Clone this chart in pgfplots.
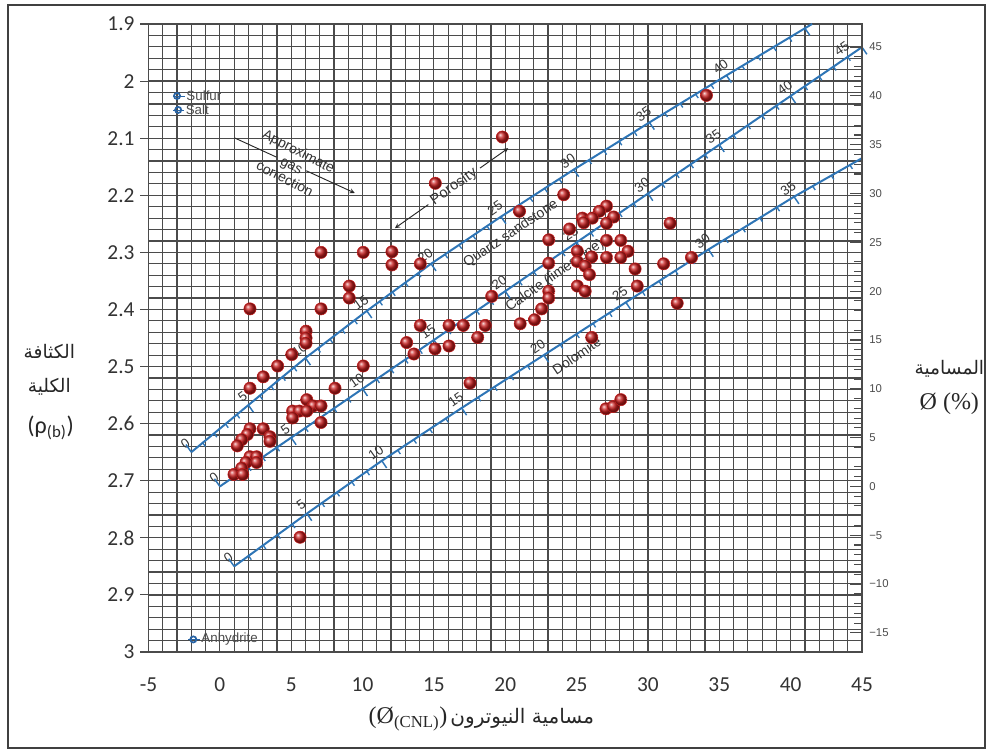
\documentclass[border=0pt]{standalone}
\usepackage{fontspec}
\usepackage{pgfplots}
\usepackage{pgfplotstable}
\pgfplotsset{compat=1.18}
\setmainfont{Carlito}
\newfontfamily\arial{Liberation Sans}
\newfontfamily\tnr{Liberation Serif}
\newfontfamily\arabicfont[Script=Arabic]{DejaVu Sans}
\TeXXeTstate=1
\definecolor{lineblue}{RGB}{46,117,182}
\definecolor{ptred}{RGB}{200,30,30}
\definecolor{gridc}{RGB}{75,75,75}
\definecolor{minblue}{RGB}{40,100,165}
\pgfdeclareplotmark{ltick}{\pgfpathmoveto{\pgfpointorigin}\pgfpathlineto{\pgfqpoint{0pt}{-\pgfplotmarksize}}\pgfusepathqstroke}

% lithology lines
\pgfplotstableread{
x y
-2 2.65
2 2.5675
6 2.485
10.3 2.4025
14.8 2.32
19.7 2.2375
24.8 2.155
30.1 2.0725
35.5 1.99
41.0 1.9075
41.5 1.9
}\sandline
\pgfplotstableread{
x y
0 2.71
45 1.9405
}\calcline
\pgfplotstableread{
x y
1 2.85
6.1 2.7575
11.35 2.665
16.95 2.5725
22.7 2.48
28.45 2.3875
34.24 2.295
40.24 2.2025
45 2.135
}\dololine
% porosity ticks along the lines
\pgfplotstableread{
x y
-1.2 2.6335
-0.4 2.617
0.4 2.6005
1.2 2.584
2.8 2.551
3.6 2.5345
4.4 2.518
5.2 2.5015
6.86 2.4685
7.72 2.452
8.58 2.4355
9.44 2.419
11.2 2.386
12.1 2.3695
13.0 2.353
13.9 2.3365
15.78 2.3035
16.76 2.287
17.74 2.2705
18.72 2.254
20.72 2.221
21.74 2.2045
22.76 2.188
23.78 2.1715
25.86 2.1385
26.92 2.122
27.98 2.1055
29.04 2.089
31.18 2.056
32.26 2.0395
33.34 2.023
34.42 2.0065
36.6 1.9735
37.7 1.957
38.8 1.9405
39.9 1.924
}\sandminor
\pgfplotstableread{
x y
2 2.5675
6 2.485
10.3 2.4025
14.8 2.32
19.7 2.2375
24.8 2.155
30.1 2.0725
35.5 1.99
41.0 1.9075
}\sandmajor
\pgfplotstableread{
x y
1 2.6929
2 2.6758
3 2.6587
4 2.6416
6 2.6074
7 2.5903
8 2.5732
9 2.5561
11 2.5219
12 2.5048
13 2.4877
14 2.4706
16 2.4364
17 2.4193
18 2.4022
19 2.3851
21 2.3509
22 2.3338
23 2.3167
24 2.2996
26 2.2654
27 2.2483
28 2.2312
29 2.2141
31 2.1799
32 2.1628
33 2.1457
34 2.1286
36 2.0944
37 2.0773
38 2.0602
39 2.0431
41 2.0089
42 1.9918
43 1.9747
44 1.9576
}\calcminor
\pgfplotstableread{
x y
5 2.6245
10 2.539
15 2.4535
20 2.368
25 2.2825
30 2.197
35 2.1115
40 2.026
45 1.9405
}\calcmajor
\pgfplotstableread{
x y
2.02 2.8315
3.04 2.813
4.06 2.7945
5.08 2.776
7.15 2.739
8.2 2.7205
9.25 2.702
10.3 2.6835
12.47 2.6465
13.59 2.628
14.71 2.6095
15.83 2.591
18.1 2.554
19.25 2.5355
20.4 2.517
21.55 2.4985
23.85 2.4615
25.0 2.443
26.15 2.4245
27.3 2.406
29.61 2.369
30.77 2.3505
31.92 2.332
33.08 2.3135
35.44 2.2765
36.64 2.258
37.84 2.2395
39.04 2.221
41.54 2.184
42.85 2.1655
44.15 2.147
}\dolominor
\pgfplotstableread{
x y
6.1 2.7575
11.35 2.665
16.95 2.5725
22.7 2.48
28.45 2.3875
34.24 2.295
40.24 2.2025
}\dolomajor
\pgfplotstableread{
x y
-2 2.65
0 2.71
1 2.85
}\zeros
% measured samples
\pgfplotstableread{
x y
34.1 2.025
19.8 2.098
15.1 2.179
24.1 2.199
21.0 2.228
27.1 2.219
26.6 2.228
25.4 2.240
26.1 2.240
25.5 2.248
27.6 2.238
27.1 2.249
31.55 2.249
24.5 2.259
23.05 2.278
27.1 2.279
28.1 2.279
25.05 2.298
28.6 2.298
26.05 2.308
27.1 2.309
28.1 2.309
33.05 2.309
25.05 2.316
25.6 2.324
23.05 2.319
31.1 2.320
29.1 2.329
25.9 2.339
25.05 2.359
25.6 2.368
29.25 2.359
32.05 2.389
23.05 2.368
23.05 2.380
22.55 2.399
22.05 2.418
21.05 2.425
19.05 2.377
18.6 2.428
17.06 2.428
16.06 2.428
14.05 2.428
18.07 2.449
26.06 2.449
17.53 2.529
27.06 2.574
27.57 2.570
28.1 2.558
13.09 2.458
13.6 2.478
15.08 2.469
16.06 2.464
10.05 2.499
8.07 2.538
7.09 2.300
10.05 2.300
12.06 2.299
12.06 2.322
14.05 2.320
9.07 2.359
9.07 2.380
2.11 2.399
7.09 2.399
6.04 2.438
6.04 2.450
6.04 2.459
5.04 2.479
4.05 2.499
3.04 2.518
2.11 2.538
6.09 2.558
6.55 2.569
7.09 2.569
5.1 2.578
5.57 2.578
6.09 2.578
5.1 2.590
7.09 2.598
2.11 2.609
3.04 2.609
1.93 2.619
3.51 2.623
3.51 2.631
1.53 2.628
1.22 2.639
2.11 2.658
2.58 2.658
1.83 2.668
2.58 2.668
1.53 2.678
0.99 2.689
1.6 2.689
5.62 2.799
}\pts

\begin{document}
\begin{tikzpicture}
\path[use as bounding box] (0,0) rectangle (742.5pt,564.75pt);
\draw[black!75, line width=0.8pt] (6pt,3.75pt) rectangle (738.75pt,561pt);
\begin{axis}[
  at={(111.375pt,75.75pt)}, anchor=south west,
  width=535.125pt, height=471pt, scale only axis,
  xmin=-5, xmax=45, ymin=1.9, ymax=3, y dir=reverse,
  xtick={-5,0,...,45}, minor x tick num=4,
  ytick={1.9,2,2.1,2.2,2.3,2.4,2.5,2.6,2.7,2.8,2.9,3},
  yticklabels={1.9,2,2.1,2.2,2.3,2.4,2.5,2.6,2.7,2.8,2.9,3},
  minor y tick num=4,
  grid=both,
  major grid style={gridc, line width=0.9pt},
  minor grid style={gridc, line width=0.9pt},
  axis line style={gridc, line width=0.9pt},
  tick align=outside,
  xtick pos=bottom, ytick pos=left,
  xtick style={draw=none},
  ytick style={gridc, line width=0.8pt},
  major tick length=6pt, minor tick length=0pt,
  clip=false,
  /pgf/number format/assume math mode=true,
  ticklabel style={font=\fontsize{16}{18}\selectfont, text=black!80},
  xticklabel style={yshift=-10pt},
  yticklabel style={xshift=-1pt},
]
% lithology lines
\addplot[lineblue, line width=1.5pt] table[x=x,y=y] {\sandline};
\addplot[lineblue, line width=1.5pt] table[x=x,y=y] {\calcline};
\addplot[lineblue, line width=1.5pt] table[x=x,y=y] {\dololine};
\addplot[only marks, mark=ltick, mark size=3.5pt, mark options={draw=lineblue, line width=1pt, rotate=35}] table[x=x,y=y] {\sandminor};
\addplot[only marks, mark=ltick, mark size=6.5pt, mark options={draw=lineblue, line width=1.1pt, rotate=35}] table[x=x,y=y] {\sandmajor};
\addplot[only marks, mark=ltick, mark size=3.5pt, mark options={draw=lineblue, line width=1pt, rotate=34.4}] table[x=x,y=y] {\calcminor};
\addplot[only marks, mark=ltick, mark size=6.5pt, mark options={draw=lineblue, line width=1.1pt, rotate=34.4}] table[x=x,y=y] {\calcmajor};
\addplot[only marks, mark=ltick, mark size=3.5pt, mark options={draw=lineblue, line width=1pt, rotate=34}] table[x=x,y=y] {\dolominor};
\addplot[only marks, mark=ltick, mark size=6.5pt, mark options={draw=lineblue, line width=1.1pt, rotate=34}] table[x=x,y=y] {\dolomajor};
\addplot[only marks, mark=ltick, mark size=7pt, mark options={draw=lineblue, line width=1.1pt, rotate=215}] table[x=x,y=y] {\zeros};

% porosity labels along the lines
\tikzset{plbl/.style={rotate=35, anchor=south, inner sep=4pt, font=\arial\fontsize{10}{11}\selectfont, text=black!80}}
\node[plbl] at (axis cs:-2,2.65) {0};
\node[plbl] at (axis cs:2,2.5675) {5};
\node[plbl] at (axis cs:6,2.485) {10};
\node[plbl] at (axis cs:10.3,2.4025) {15};
\node[plbl] at (axis cs:14.8,2.32) {20};
\node[plbl] at (axis cs:19.7,2.2375) {25};
\node[plbl] at (axis cs:24.8,2.155) {30};
\node[plbl] at (axis cs:30.1,2.0725) {35};
\node[plbl] at (axis cs:35.5,1.99) {40};
\node[plbl] at (axis cs:0,2.71) {0};
\node[plbl] at (axis cs:5,2.6245) {5};
\node[plbl] at (axis cs:10,2.539) {10};
\node[plbl] at (axis cs:15,2.4535) {15};
\node[plbl] at (axis cs:20,2.368) {20};
\node[plbl] at (axis cs:25,2.2825) {25};
\node[plbl] at (axis cs:30,2.197) {30};
\node[plbl] at (axis cs:35,2.1115) {35};
\node[plbl] at (axis cs:40,2.026) {40};
\node[plbl] at (axis cs:44,1.9576) {45};
\node[plbl] at (axis cs:1,2.85) {0};
\node[plbl] at (axis cs:6.1,2.7575) {5};
\node[plbl] at (axis cs:11.35,2.665) {10};
\node[plbl] at (axis cs:16.95,2.5725) {15};
\node[plbl] at (axis cs:22.7,2.48) {20};
\node[plbl] at (axis cs:28.45,2.3875) {25};
\node[plbl] at (axis cs:34.24,2.295) {30};
\node[plbl] at (axis cs:40.24,2.2025) {35};

% lithology names
\tikzset{lname/.style={font=\arial\fontsize{10.5}{12}\selectfont, text=black!80, inner sep=1pt}}
\node[lname, rotate=34] at (axis cs:20.39,2.2675) {Quartz sandstone};
\node[lname, rotate=35] at (axis cs:23.49,2.341) {Calcite (limestone)};
\node[lname, rotate=34] at (axis cs:25.0,2.481) {Dolomite};

% gas correction arrow
\addplot[black!85, line width=0.7pt] coordinates {(1.03,2.0995) (3.96,2.1331)};
\addplot[black!85, line width=0.7pt, -stealth] coordinates {(6.06,2.1571) (9.45,2.196)};
\node[font=\arial\fontsize{10.5}{11.5}\selectfont, text=black!80, rotate=-27, align=center] at (axis cs:5.05,2.1465) {Approximate\\gas\\correction};
% porosity arrow
\addplot[black!85, line width=0.7pt, stealth-] coordinates {(12.27,2.2576) (14.61,2.2163)};
\addplot[black!85, line width=0.7pt, -stealth] coordinates {(18.23,2.1524) (20.21,2.1175)};
\node[font=\arial\fontsize{11}{12}\selectfont, text=black!80, rotate=35] at (axis cs:16.41,2.185) {Porosity};

% minerals
\addplot[minblue, line width=0.6pt] coordinates {(-3.3,2.026) (-2.45,2.026)};
\addplot[minblue, line width=0.6pt] coordinates {(-3.25,2.0505) (-2.5,2.0505)};
\addplot[minblue, line width=0.6pt] coordinates {(-2.2,2.978) (-1.4,2.978)};
\addplot[only marks, mark=o, mark size=2.3pt, mark options={draw=minblue, line width=1.3pt, fill=white}] coordinates {(-3.0,2.026) (-2.92,2.0505) (-1.86,2.978)};
\node[anchor=west, inner sep=1pt, font=\arial\fontsize{10}{11}\selectfont, text=black!70] at (axis cs:-2.45,2.026) {Sulfur};
\node[anchor=west, inner sep=1pt, font=\arial\fontsize{10}{11}\selectfont, text=black!70] at (axis cs:-2.5,2.0505) {Salt};
\node[anchor=west, inner sep=1pt, font=\arial\fontsize{10}{11}\selectfont, text=black!70] at (axis cs:-1.4,2.978) {Anhydrite};

% samples
\addplot[only marks, mark=ball, mark size=4.6pt, color=ptred, mark options={ball color=ptred}] table[x=x,y=y] {\pts};
\end{axis}

\begin{axis}[
  at={(111.375pt,75.75pt)}, anchor=south west,
  width=535.125pt, height=471pt, scale only axis,
  xmin=-5, xmax=45, ymin=-16.959, ymax=47.368,
  axis x line=none, axis y line*=right,
  axis line style={gridc, line width=0.9pt},
  ytick={-15,-10,...,45},
  yticklabels={−15,−10,−5,0,5,10,15,20,25,30,35,40,45},
  minor y tick num=4,
  tick align=inside,
  major tick length=9pt, minor tick length=6pt,
  ytick style={gridc, line width=0.8pt},
  yticklabel style={font=\arial\fontsize{8.5}{10}\selectfont, text=black!70, xshift=2pt},
]
\addplot[draw=none] coordinates {(0,0)};
\end{axis}

% axis titles
\node[font=\arabicfont\fontsize{14}{16}\selectfont, text=black!85] at (37pt,301.5pt) {\beginR الكثافة\endR};
\node[font=\arabicfont\fontsize{14}{16}\selectfont, text=black!85] at (37pt,274.5pt) {\beginR الكلية\endR};
\node[font=\fontsize{18}{20}\selectfont, text=black!85] at (38pt,243.75pt) {(ρ\textsubscript{(b)})};
\node[font=\arabicfont\fontsize{14}{16}\selectfont, text=black!85] at (712pt,288pt) {\beginR المسامية\endR};
\node[font=\tnr\fontsize{18}{20}\selectfont, text=black!85] at (712pt,262pt) {Ø (\%)};
\node[text=black!85, inner sep=0pt] at (361pt,25.5pt) {{\tnr\fontsize{18}{20}\selectfont (Ø\textsubscript{(CNL)})} {\arabicfont\fontsize{15}{17}\selectfont\beginR مسامية النيوترون\endR}};
\end{tikzpicture}
\end{document}
